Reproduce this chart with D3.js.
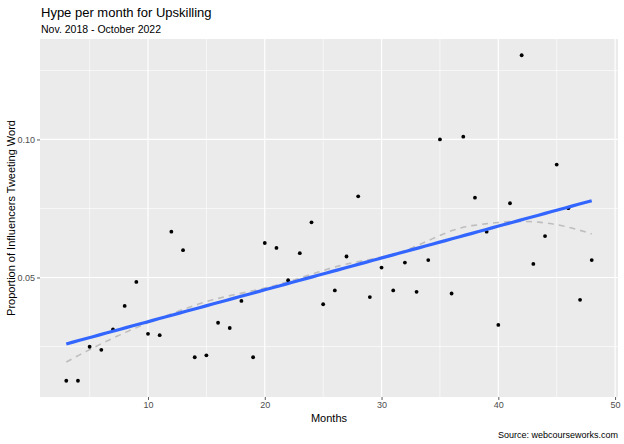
<!DOCTYPE html>
<html>
<head>
<meta charset="utf-8">
<script src="https://cdn.jsdelivr.net/npm/d3@7"></script>
<style>
  html, body { margin: 0; padding: 0; background: #fff; }
  svg { display: block; }
  text { font-family: "Liberation Sans", Arial, sans-serif; }
</style>
</head>
<body>
<svg id="chart" width="624" height="444"></svg>
<script>
const months = [3,4,5,6,7,8,9,10,11,12,13,14,15,16,17,18,19,20,21,22,23,24,25,26,27,28,29,30,31,32,33,34,35,36,37,38,39,40,41,42,43,44,45,46,47,48];
const proportions = [0.0126,0.0126,0.0249,0.0238,0.0312,0.0397,0.0484,0.0296,0.0291,0.0666,0.0599,0.0211,0.0218,0.0336,0.0317,0.0415,0.0211,0.0625,0.0607,0.0490,0.0588,0.0700,0.0403,0.0453,0.0576,0.0794,0.0429,0.0536,0.0453,0.0554,0.0448,0.0563,0.1000,0.0442,0.1010,0.0789,0.0666,0.0328,0.0769,0.1305,0.0549,0.0650,0.0909,0.0751,0.0419,0.0563];
const xTicks = [10,20,30,40,50];
const yTicks = [0.05,0.10];
const yMinor = [0.025,0.075,0.125];
const xMinor = [5,15,25,35,45];

const title = "Hype per month for Upskilling";
const subtitle = "Nov. 2018 - October 2022";
const xLabel = "Months";
const yLabel = "Proportion of Influencers Tweeting Word";
const caption = "Source: webcourseworks.com";

const svg = d3.select("#chart");
const P = {left: 40, right: 618, top: 39, bottom: 397};

const data = months.map((m, i) => ({x: m, y: proportions[i]}));

const xr = d3.extent(months), yr = d3.extent(proportions);
const xe = (xr[1]-xr[0])*0.05, ye = (yr[1]-yr[0])*0.05;
const x = d3.scaleLinear().domain([xr[0]-xe, xr[1]+xe]).range([P.left, P.right]);
const y = d3.scaleLinear().domain([yr[0]-ye, yr[1]+ye]).range([P.bottom, P.top]);

svg.append("rect").attr("x", P.left).attr("y", P.top)
  .attr("width", P.right-P.left).attr("height", P.bottom-P.top).attr("fill", "#EBEBEB");

const g = svg.append("g");
xMinor.forEach(v => g.append("line").attr("x1", x(v)).attr("x2", x(v)).attr("y1", P.top).attr("y2", P.bottom)
  .attr("stroke", "#fff").attr("stroke-width", 0.6));
yMinor.forEach(v => g.append("line").attr("y1", y(v)).attr("y2", y(v)).attr("x1", P.left).attr("x2", P.right)
  .attr("stroke", "#fff").attr("stroke-width", 0.6));
xTicks.forEach(v => g.append("line").attr("x1", x(v)).attr("x2", x(v)).attr("y1", P.top).attr("y2", P.bottom)
  .attr("stroke", "#fff").attr("stroke-width", 1.2));
yTicks.forEach(v => g.append("line").attr("y1", y(v)).attr("y2", y(v)).attr("x1", P.left).attr("x2", P.right)
  .attr("stroke", "#fff").attr("stroke-width", 1.2));

const xAxis = svg.append("g").attr("transform", `translate(0,${P.bottom})`)
  .call(d3.axisBottom(x).tickValues(xTicks).tickSize(3).tickPadding(2).tickFormat(d3.format("d")));
const yAxis = svg.append("g").attr("transform", `translate(${P.left},0)`)
  .call(d3.axisLeft(y).tickValues(yTicks).tickSize(3).tickPadding(2).tickFormat(d3.format(".2f")));
[xAxis, yAxis].forEach(a => {
  a.select(".domain").remove();
  a.selectAll(".tick line").attr("stroke", "#333").attr("stroke-width", 0.8);
  a.selectAll(".tick text").attr("fill", "#4D4D4D").style("font-size", "9px")
    .style("font-family", '"Liberation Sans", Arial, sans-serif');
});

// local quadratic fit (span 0.75, tricube), returns value and slope at x0
function localFit(xs, ys, span, x0) {
  const n = xs.length, q = Math.floor(span * n);
  const d = xs.map(v => Math.abs(v - x0));
  const dmax = d.slice().sort((a,b)=>a-b)[q-1];
  let S = [0,0,0,0,0], T = [0,0,0];
  for (let i = 0; i < n; i++) {
    const u = d[i] / dmax;
    if (u >= 1) continue;
    const w = Math.pow(1 - u*u*u, 3);
    const t = xs[i] - x0;
    let p = 1;
    for (let k = 0; k < 5; k++) { S[k] += w*p; p *= t; }
    T[0] += w*ys[i]; T[1] += w*ys[i]*t; T[2] += w*ys[i]*t*t;
  }
  const A = [[S[0],S[1],S[2]],[S[1],S[2],S[3]],[S[2],S[3],S[4]]];
  const det = m => m[0][0]*(m[1][1]*m[2][2]-m[1][2]*m[2][1]) - m[0][1]*(m[1][0]*m[2][2]-m[1][2]*m[2][0]) + m[0][2]*(m[1][0]*m[2][1]-m[1][1]*m[2][0]);
  const D = det(A);
  const A0 = A.map((r,i)=>[T[i], r[1], r[2]]);
  const A1 = A.map((r,i)=>[r[0], T[i], r[2]]);
  return {v: det(A0)/D, s: det(A1)/D};
}
// kd-tree vertices + cubic Hermite interpolation (as in R loess surface="interpolate")
function loessInterp(xs, ys, span, evalX) {
  const n = xs.length, fc = Math.floor(n * span * 0.2);
  const sorted = xs.slice().sort((a,b)=>a-b);
  const rng = sorted[n-1] - sorted[0], mg = 0.005 * rng;
  const verts = [sorted[0]-mg, sorted[n-1]+mg];
  (function split(l, u) {
    if (u - l + 1 <= fc) return;
    const m = Math.floor((l + u) / 2);
    const v = (sorted[m] + sorted[m+1]) / 2;
    verts.push(v);
    split(l, m); split(m+1, u);
  })(0, n-1);
  verts.sort((a,b)=>a-b);
  const fits = verts.map(v => localFit(xs, ys, span, v));
  return evalX.map(x0 => {
    let k = 0;
    while (k < verts.length-2 && x0 > verts[k+1]) k++;
    const x1 = verts[k], x2 = verts[k+1], h = x2 - x1;
    const t = (x0 - x1) / h;
    const f1 = fits[k], f2 = fits[k+1];
    const h00 = 2*t*t*t - 3*t*t + 1, h10 = t*t*t - 2*t*t + t, h01 = -2*t*t*t + 3*t*t, h11 = t*t*t - t*t;
    return {x: x0, y: h00*f1.v + h10*h*f1.s + h01*f2.v + h11*h*f2.s};
  });
}
const evalX = d3.range(80).map(i => xr[0] + (xr[1]-xr[0]) * i / 79);
const lo = loessInterp(months, proportions, 0.75, evalX);

const mx = d3.mean(months), my = d3.mean(proportions);
const b = d3.sum(months.map((m,i)=>(m-mx)*(proportions[i]-my))) / d3.sum(months.map(m=>(m-mx)*(m-mx)));
const a = my - b*mx;
const lin = evalX.map(v => ({x: v, y: a + b*v}));

const line = d3.line().x(d => x(d.x)).y(d => y(d.y));

g.append("path").datum(lo).attr("d", line).attr("fill", "none")
  .attr("stroke", "#BEBEBE").attr("stroke-width", 1.6).attr("stroke-dasharray", "6,5");

g.selectAll("circle").data(data).join("circle")
  .attr("cx", d => x(d.x)).attr("cy", d => y(d.y)).attr("r", 1.9).attr("fill", "#000");

g.append("path").datum(lin).attr("d", line).attr("fill", "none")
  .attr("stroke", "#3366FF").attr("stroke-width", 3.2);

svg.append("text").attr("x", 41).attr("y", 17).text(title)
  .attr("fill", "#000").style("font-size", "13px");
svg.append("text").attr("x", 41).attr("y", 33).text(subtitle)
  .attr("fill", "#000").style("font-size", "10.5px");
svg.append("text").attr("x", (P.left+P.right)/2).attr("y", 422).attr("text-anchor", "middle")
  .text(xLabel).attr("fill", "#000").style("font-size", "11px");
svg.append("text").attr("transform", `translate(15,${(P.top+P.bottom)/2}) rotate(-90)`)
  .attr("text-anchor", "middle").text(yLabel).attr("fill", "#000").style("font-size", "11px");
svg.append("text").attr("x", 618).attr("y", 438).attr("text-anchor", "end")
  .text(caption).attr("fill", "#000").style("font-size", "9px");
</script>
</body>
</html>
